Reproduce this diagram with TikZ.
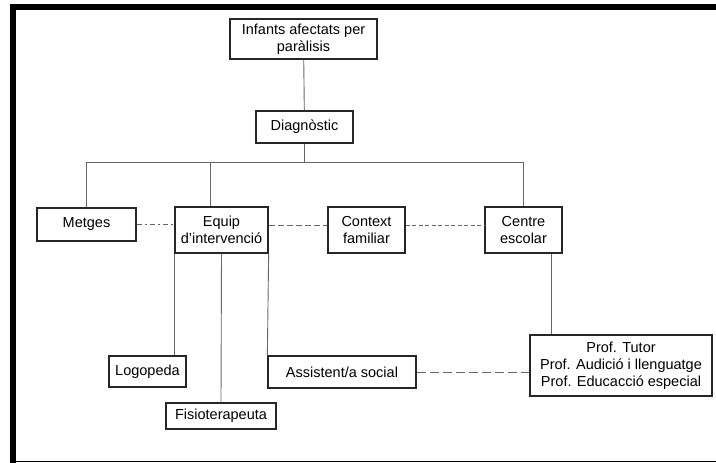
\documentclass[tikz,border=0pt]{standalone}
\usepackage{fontspec}
\setmainfont{Liberation Sans}

\begin{document}
\begin{tikzpicture}[
  x=1pt, y=-1pt,
  every node/.style={font=\fontsize{14.5}{17}\selectfont},
  box/.style={draw=black!85, line width=1.3pt, align=center, inner sep=0pt},
  link/.style={draw=black!60, line width=0.9pt},
  dashdotlink/.style={link, dash pattern=on 5pt off 3pt on 2pt off 3pt},
  longdash/.style={link, dash pattern=on 9pt off 4pt},
  middash/.style={link, dash pattern=on 6pt off 3pt},
  shortdash/.style={link, dash pattern=on 4pt off 2.5pt}
]
\useasboundingbox (0,0) rectangle (716,463);

% frame
\fill (10,4) rectangle (716,10);
\fill (10,4) rectangle (16,463);
\draw[line width=1.5pt] (16,461.5) -- (716,461.5);

% boxes
\node[box, minimum width=147pt, minimum height=40pt] (infants) at (303.5,39) {Infants afectats per\\paràlisis};
\node[box, minimum width=97pt, minimum height=32pt] (diag) at (304.5,127) {Diagnòstic};
\node[box, minimum width=99pt, minimum height=33pt] (metges) at (86.5,224.5) {Metges};
\node[box, minimum width=93pt, minimum height=46pt] (equip) at (221.5,230) {Equip\\d'intervenció};
\node[box, minimum width=77pt, minimum height=46pt] (context) at (366.5,230) {Context\\familiar};
\node[box, minimum width=77pt, minimum height=46pt] (centre) at (523.5,230) {Centre\\escolar};
\node[box, minimum width=77pt, minimum height=31pt] (logo) at (147.5,371.5) {Logopeda};
\node[box, minimum width=110pt, minimum height=26pt] (fisio) at (221,416) {Fisioterapeuta};
\node[box, minimum width=148pt, minimum height=32pt] (assist) at (342,372) {Assistent/a social};
\node[box, minimum width=182pt, minimum height=61pt] (prof) at (621,365.5) {Prof. Tutor\\Prof. Audició i llenguatge\\Prof. Educacció especial};

% tree
\coordinate (bus) at (0,162);
\draw[link] (infants) -- (diag);
\draw[link] (diag) -- (diag |- bus);
\draw[link] (metges.north) -- (metges.north |- bus) -| (centre.north);
\draw[link] ([xshift=-11.5pt]equip.north) -- ([xshift=-11.5pt]equip.north |- bus);

% dashed relations
\draw[dashdotlink] (metges.east) -- (metges.east -| equip.west);
\draw[middash] ([yshift=5pt]equip.east) -- ([yshift=5pt]context.west);
\draw[shortdash] ([yshift=5pt]context.east) -- ([yshift=5pt]centre.west);
\draw[longdash] (assist.east) -- (assist.east -| prof.west);

% team members
\draw[link] (equip.south west) -- (equip.south west |- logo.north);
\draw[link] (equip.south) -- (fisio.north);
\draw[link] (equip.south east) -- (assist.north west);
\draw[link] ([xshift=27.5pt]centre.south) -- ([xshift=27.5pt]centre.south |- prof.north);

\end{tikzpicture}
\end{document}
